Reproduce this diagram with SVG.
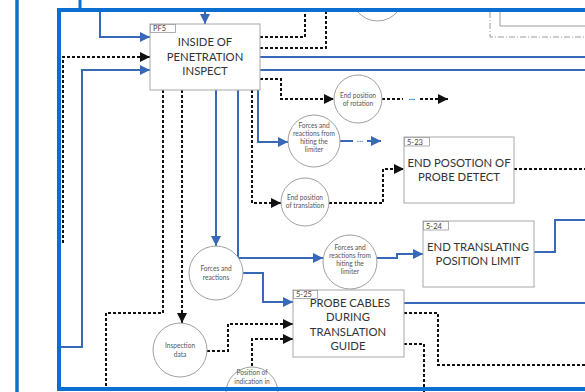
<svg xmlns="http://www.w3.org/2000/svg" width="585" height="392" viewBox="0 0 585 392">
<style>
.box{fill:#fff;stroke:#a8a8a8;stroke-width:1}
.lbl{fill:#fff;stroke:#999;stroke-width:0.8}
.lt{font-family:Lato,"Liberation Sans",sans-serif;font-size:7.5px;fill:#444}
.bt{font-family:Lato,"Liberation Sans",sans-serif;font-size:11.3px;fill:#333;text-anchor:middle}
.cir{fill:#fff;stroke:#a0a0a0;stroke-width:1}
.ct{font-family:Lato,"Liberation Sans",sans-serif;font-size:6.6px;fill:#555;text-anchor:middle}
.bl{fill:none;stroke:#3868b8;stroke-width:2}
.dt{fill:none;stroke:#111;stroke-width:2;stroke-dasharray:3 2}
.fr{fill:none;stroke:#0b6fd1;stroke-width:4}
.gr{fill:none;stroke:#9a9a9a;stroke-width:1}
.dots{font-family:Lato,"Liberation Sans",sans-serif;font-size:9px;text-anchor:middle}
</style>
<defs>
<marker id="ab" viewBox="0 0 10 10" refX="10" refY="5" markerWidth="5.5" markerHeight="5" orient="auto" markerUnits="strokeWidth"><path d="M0,0 L10,5 L0,10 z" fill="#3868b8"/></marker>
<marker id="ak" viewBox="0 0 10 10" refX="10" refY="5" markerWidth="5.5" markerHeight="5" orient="auto" markerUnits="strokeWidth"><path d="M0,0 L10,5 L0,10 z" fill="#111"/></marker>
</defs>
<rect width="585" height="392" fill="#fff"/>
<g id="top-context">
<path class="gr" d="M500,12 V26 H585"/>
<path class="gr" d="M490,12 V37 H585" stroke-dasharray="6 2 1 2"/>
<path class="cir" d="M357,11 A26,26 0 0 0 398,11"/>
</g>
<g id="connectors">
<path class="bl" d="M205,12 V24" marker-end="url(#ab)"/>
<path class="bl" d="M100,12 V37 H150" marker-end="url(#ab)"/>
<path class="bl" d="M60,347 H82 V70 H150" marker-end="url(#ab)"/>
<path class="bl" d="M260,57 H585" stroke-width="1.6"/>
<path class="bl" d="M260,70 H585" stroke-width="1.6"/>
<path class="bl" d="M258,90 V142 H288" marker-end="url(#ab)"/>
<path class="bl" d="M340,141 H353"/>
<text class="dots" x="360" y="142" fill="#3868b8">...</text>
<path class="bl" d="M367,141 H381" marker-end="url(#ab)"/>
<path class="bl" d="M216,90 V246" marker-end="url(#ab)"/>
<path class="bl" d="M238,90 V258 H323" marker-end="url(#ab)"/>
<path class="bl" d="M377,258 H397 V254 H423" marker-end="url(#ab)"/>
<path class="bl" d="M534,252 H555 V220 H585"/>
<path class="bl" d="M243,273 H263 V302 H293" marker-end="url(#ab)"/>
<path class="bl" d="M404,303 H585" stroke-width="1.6"/>
<path class="dt" d="M260,37 H305 V12"/>
<path class="dt" d="M260,48 H326 V12"/>
<path class="dt" d="M63,243 V57 H150" marker-end="url(#ak)"/>
<path class="dt" d="M260,79 H281 V99 H334" marker-end="url(#ak)"/>
<path class="dt" d="M382,99 H403"/>
<text class="dots" x="412" y="100" fill="#111">...</text>
<path class="dt" d="M420,99 H448" marker-end="url(#ak)"/>
<path class="dt" d="M252,90 V203 H281" marker-end="url(#ak)"/>
<path class="dt" d="M329,203 H383 V169 H404" marker-end="url(#ak)"/>
<path class="dt" d="M514,169 H585"/>
<path class="dt" d="M182,90 V323" marker-end="url(#ak)"/>
<path class="dt" d="M163,90 V313 H106 V392"/>
<path class="dt" d="M207,351 H228 V324 H293" marker-end="url(#ak)"/>
<path class="dt" d="M252,366 V339 H293" marker-end="url(#ak)"/>
<path class="dt" d="M404,313 H438 V365 H585"/>
<path class="dt" d="M404,344 H424 V392"/>
</g>
<g id="pf5">
<rect class="box" x="150" y="24" width="110" height="66"/>
<rect class="lbl" x="150.5" y="24.5" width="25" height="8"/>
<text class="lt" x="153" y="31">PF5</text>
<text class="bt" x="205" y="46">INSIDE OF</text>
<text class="bt" x="205" y="61">PENETRATION</text>
<text class="bt" x="205" y="75">INSPECT</text>
</g>
<g id="n523">
<rect class="box" x="404" y="137" width="110" height="66"/>
<rect class="lbl" x="404.5" y="137.5" width="25" height="8.5"/>
<text class="lt" x="407" y="144.5">5-23</text>
<text class="bt" x="459" y="167">END POSOTION OF</text>
<text class="bt" x="459" y="181">PROBE DETECT</text>
</g>
<g id="n524">
<rect class="box" x="423" y="221" width="111" height="66"/>
<rect class="lbl" x="423.5" y="221.5" width="25" height="8.5"/>
<text class="lt" x="426" y="228.5">5-24</text>
<text class="bt" x="478" y="251">END TRANSLATING</text>
<text class="bt" x="478" y="265">POSITION LIMIT</text>
</g>
<g id="n525">
<rect class="box" x="293" y="290" width="111" height="67"/>
<text class="bt" x="350" y="307">PROBE CABLES</text>
<rect class="lbl" x="293.5" y="290.5" width="24" height="8"/>
<text class="lt" x="296" y="297">5-25</text>
<text class="bt" x="348" y="321">DURING</text>
<text class="bt" x="348" y="336">TRANSLATION</text>
<text class="bt" x="348" y="350">GUIDE</text>
</g>
<g id="c-rotation">
<circle class="cir" cx="358" cy="99" r="24"/>
<text class="ct" x="358" y="98">End position</text>
<text class="ct" x="358" y="106">of rotation</text>
</g>
<g id="c-limiter1">
<circle class="cir" cx="314" cy="141" r="26"/>
<text class="ct" x="314" y="128">Forces and</text>
<text class="ct" x="314" y="136">reactions from</text>
<text class="ct" x="314" y="144">hiting the</text>
<text class="ct" x="314" y="152">limiter</text>
</g>
<g id="c-translation">
<circle class="cir" cx="305" cy="202" r="24"/>
<text class="ct" x="305" y="200">End position</text>
<text class="ct" x="305" y="208">of translation</text>
</g>
<g id="c-forces">
<circle class="cir" cx="216" cy="273" r="27"/>
<text class="ct" x="216" y="271">Forces and</text>
<text class="ct" x="216" y="280">reactions</text>
</g>
<g id="c-limiter2">
<circle class="cir" cx="350" cy="262" r="27"/>
<text class="ct" x="350" y="250">Forces and</text>
<text class="ct" x="350" y="258">reactions from</text>
<text class="ct" x="350" y="266">hiting the</text>
<text class="ct" x="350" y="274">limiter</text>
</g>
<g id="c-inspection">
<circle class="cir" cx="180" cy="350" r="27"/>
<text class="ct" x="180" y="348">Inspection</text>
<text class="ct" x="180" y="357">data</text>
</g>
<g id="c-position">
<circle class="cir" cx="252" cy="393" r="26"/>
<text class="ct" x="252" y="375">Position of</text>
<text class="ct" x="252" y="384">indication in</text>
</g>
<g id="frame">
<path d="M17,0 V392" stroke="#0b6fd1" stroke-width="3.5" fill="none"/>
<path d="M80,0 V10" stroke="#0b6fd1" stroke-width="3" fill="none"/>
<path class="fr" d="M585,10 H59 V389 H585"/>
</g>
</svg>
